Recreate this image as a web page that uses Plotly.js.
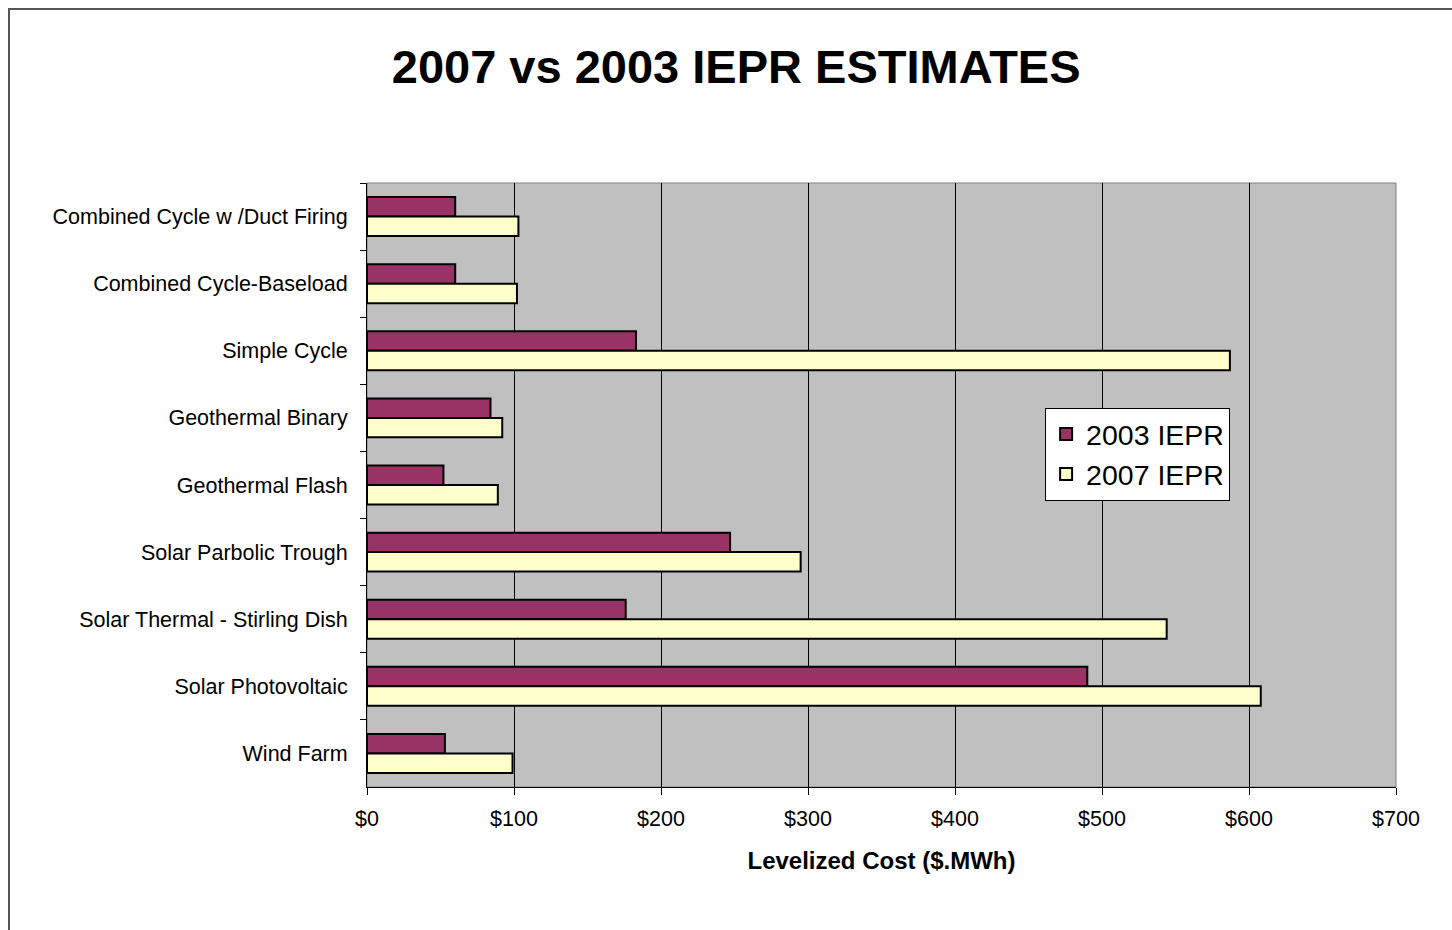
<!DOCTYPE html>
<html>
<head>
<meta charset="utf-8">
<script src="https://cdn.plot.ly/plotly-3.0.1.min.js"></script>
<style>
  html, body { margin: 0; padding: 0; background: #ffffff; overflow: hidden; }
  #frame { position: absolute; left: 8px; top: 8px; width: 2000px; height: 2000px; border-left: 2px solid #555; border-top: 2px solid #555; }
  #chart { position: absolute; left: 0; top: 0; width: 1452px; height: 930px; }
</style>
</head>
<body>
<div id="frame"></div>
<div id="chart"></div>
<script>
const categories = [
  "Combined Cycle w /Duct Firing",
  "Combined Cycle-Baseload",
  "Simple Cycle",
  "Geothermal Binary",
  "Geothermal Flash",
  "Solar Parbolic Trough",
  "Solar Thermal - Stirling Dish",
  "Solar Photovoltaic",
  "Wind Farm"
];
const iepr2003 = [60, 60, 183, 84, 52, 247, 176, 490, 53];
const iepr2007 = [103, 102, 587, 92, 89, 295, 544, 608, 99];
const seriesNames = ["2003 IEPR", "2007 IEPR"];

const lineStyle = { color: "#000000", width: 2 };
const traces = [
  { type: "bar", orientation: "h", name: seriesNames[0], y: categories, x: iepr2003,
    marker: { color: "#993366", line: lineStyle }, hoverinfo: "x+y" },
  { type: "bar", orientation: "h", name: seriesNames[1], y: categories, x: iepr2007,
    marker: { color: "#FFFFCC", line: lineStyle }, hoverinfo: "x+y" }
];

const font = "Liberation Sans, Arial, sans-serif";
const layout = {
  width: 1452, height: 930,
  paper_bgcolor: "rgba(0,0,0,0)",
  plot_bgcolor: "#C0C0C0",
  margin: { l: 367, r: 56, t: 183, b: 143 },
  barmode: "group",
  bargap: 0.42,
  bargroupgap: 0,
  showlegend: true,
  title: {
    text: "<b>2007 vs 2003 IEPR ESTIMATES</b>",
    font: { family: font, size: 47, color: "#000" },
    x: 0.507, xanchor: "center", y: 0.928, yanchor: "middle"
  },
  font: { family: font, color: "#000" },
  xaxis: {
    range: [0, 700], dtick: 100, tick0: 0, tickprefix: "$",
    showgrid: true, gridcolor: "#000000", gridwidth: 1,
    zeroline: false,
    showline: true, linecolor: "#000000", linewidth: 1,
    ticks: "outside", ticklen: 7, tickcolor: "#000000", tickwidth: 1,
    tickfont: { family: font, size: 21.5, color: "#000" },
    ticklabelstandoff: 5,
    title: { text: "<b>Levelized Cost ($.MWh)</b>", font: { family: font, size: 24, color: "#000" }, standoff: 22 },
    fixedrange: true
  },
  yaxis: {
    type: "category",
    autorange: "reversed",
    showgrid: false, zeroline: false,
    showline: true, linecolor: "#000000", linewidth: 1,
    ticks: "outside", ticklen: 6, tickcolor: "#000000", tickwidth: 1,
    tickson: "boundaries",
    tickfont: { family: font, size: 21.5, color: "#000" },
    ticklabelstandoff: 14,
    fixedrange: true
  },
  legend: {
    x: 0.659, xanchor: "left", y: 0.6275, yanchor: "top",
    bgcolor: "#FFFFFF", bordercolor: "#000000", borderwidth: 1,
    font: { family: font, size: 28.5, color: "#000" },
    traceorder: "normal",
    itemwidth: 30,
    tracegroupgap: 0
  },
  shapes: [
    { type: "rect", xref: "paper", yref: "paper", x0: 0, x1: 1, y0: 0, y1: 1,
      line: { color: "#808080", width: 1 }, fillcolor: "rgba(0,0,0,0)", layer: "below" }
  ]
};

Plotly.newPlot("chart", traces, layout, { displayModeBar: false, staticPlot: true });
</script>
</body>
</html>
